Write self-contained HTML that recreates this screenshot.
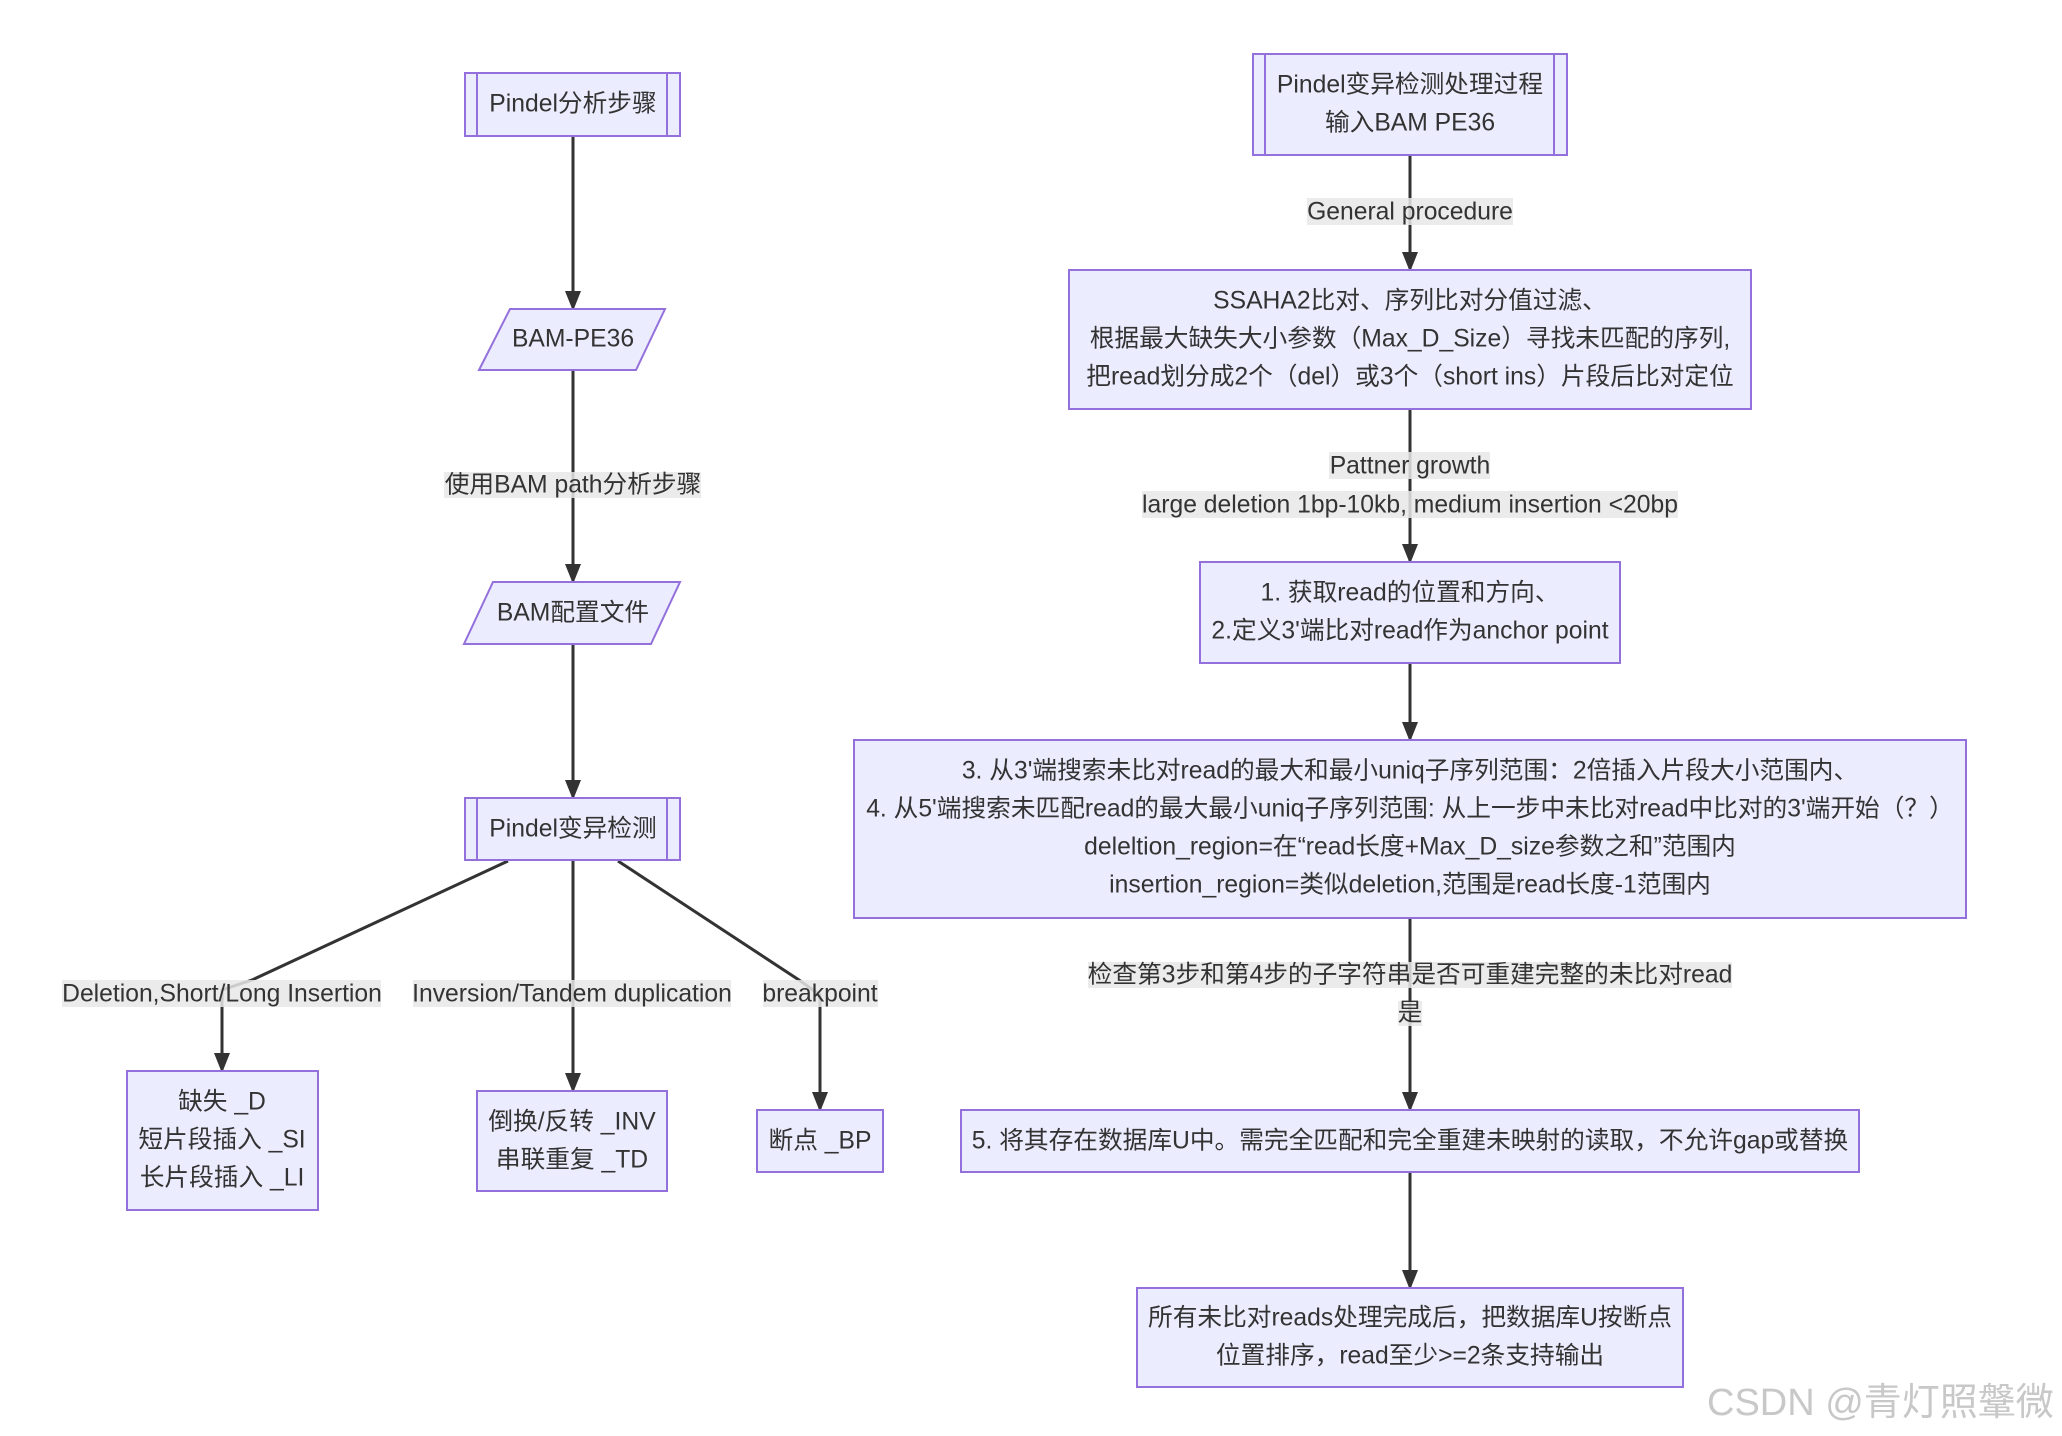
<!DOCTYPE html>
<html><head><meta charset="utf-8"><style>
html,body{margin:0;padding:0;background:#fff;}
svg{display:block;}
text{font-family:"Liberation Sans","Noto Sans CJK SC",sans-serif;font-size:24.7px;fill:#333;text-anchor:middle;dominant-baseline:central;}
.n{fill:#ECECFF;stroke:#9370DB;stroke-width:2;}
.l{stroke:#333;stroke-width:3;fill:none;}
.lb{fill:rgba(232,232,232,0.85);}
.wm{fill:#c8c8c8;font-size:38px;text-anchor:start;}
</style></head><body>
<svg width="2062" height="1436" viewBox="0 0 2062 1436" xmlns="http://www.w3.org/2000/svg">
<defs>
<marker id="b" markerWidth="20" markerHeight="20" refX="18" refY="8" orient="auto" markerUnits="userSpaceOnUse" viewBox="0 0 20 16"><path d="M0,0 L20,8 L0,16 z" fill="#333"/></marker></defs>

<path class="l" d="M573,136 L573,309" marker-end="url(#b)"/>
<path class="l" d="M573,370 L573,582" marker-end="url(#b)"/>
<path class="l" d="M573,644 L573,798" marker-end="url(#b)"/>
<path class="l" d="M508,861 L252,980 L222,990 L222,1071" marker-end="url(#b)"/>
<path class="l" d="M573,861 L573,1091" marker-end="url(#b)"/>
<path class="l" d="M618,861 L799,980 L820,995 L820,1110" marker-end="url(#b)"/>
<path class="l" d="M1410,155 L1410,270" marker-end="url(#b)"/>
<path class="l" d="M1410,409 L1410,562" marker-end="url(#b)"/>
<path class="l" d="M1410,663 L1410,740" marker-end="url(#b)"/>
<path class="l" d="M1410,918 L1410,1110" marker-end="url(#b)"/>
<path class="l" d="M1410,1172 L1410,1288" marker-end="url(#b)"/>

<rect class="n" x="465" y="73" width="215" height="63"/>
<line class="n" x1="477" y1="73" x2="477" y2="136"/><line class="n" x1="667" y1="73" x2="667" y2="136"/>
<text x="573" y="104">Pindel分析步骤</text>
<polygon class="n" points="510,309 665,309 636,370 479,370"/>
<text x="573" y="339">BAM-PE36</text>
<polygon class="n" points="493,582 680,582 651,644 464,644"/>
<text x="573" y="613">BAM配置文件</text>
<rect class="n" x="465" y="798" width="215" height="62"/>
<line class="n" x1="477" y1="798" x2="477" y2="860"/><line class="n" x1="667" y1="798" x2="667" y2="860"/>
<text x="573" y="829">Pindel变异检测</text>

<rect class="lb" x="444" y="472" width="257" height="26"/><text x="573" y="485">使用BAM path分析步骤</text>
<rect class="lb" x="62" y="980" width="319" height="27"/><text x="222" y="994">Deletion,Short/Long Insertion</text>
<rect class="lb" x="413" y="980" width="318" height="27"/><text x="572" y="994">Inversion/Tandem duplication</text>
<rect class="lb" x="763" y="980" width="115" height="27"/><text x="820" y="994">breakpoint</text>

<rect class="n" x="127" y="1071" width="191" height="139"/>
<text x="222" y="1102">缺失 _D</text><text x="222" y="1140">短片段插入 _SI</text><text x="222" y="1178">长片段插入 _LI</text>
<rect class="n" x="477" y="1091" width="190" height="100"/>
<text x="572" y="1122">倒换/反转 _INV</text><text x="572" y="1160">串联重复 _TD</text>
<rect class="n" x="757" y="1110" width="126" height="62"/>
<text x="820" y="1141">断点 _BP</text>

<rect class="n" x="1253" y="54" width="314" height="101"/>
<line class="n" x1="1265" y1="54" x2="1265" y2="155"/><line class="n" x1="1554" y1="54" x2="1554" y2="155"/>
<text x="1410" y="85">Pindel变异检测处理过程</text><text x="1410" y="123">输入BAM PE36</text>
<rect class="lb" x="1307" y="198" width="206" height="27"/><text x="1410" y="212">General procedure</text>

<rect class="n" x="1069" y="270" width="682" height="139"/>
<text x="1410" y="301">SSAHA2比对、序列比对分值过滤、</text>
<text x="1410" y="339">根据最大缺失大小参数（Max_D_Size）寻找未匹配的序列,</text>
<text x="1410" y="377">把read划分成2个（del）或3个（short ins）片段后比对定位</text>

<rect class="lb" x="1329" y="452" width="161" height="27"/><text x="1410" y="466">Pattner growth</text>
<rect class="lb" x="1142" y="491" width="536" height="27"/><text x="1410" y="505">large deletion 1bp-10kb, medium insertion &lt;20bp</text>

<rect class="n" x="1200" y="562" width="420" height="101"/>
<text x="1410" y="593">1. 获取read的位置和方向、</text><text x="1410" y="631">2.定义3'端比对read作为anchor point</text>

<rect class="n" x="854" y="740" width="1112" height="178"/>
<text x="1410" y="771">3. 从3'端搜索未比对read的最大和最小uniq子序列范围：2倍插入片段大小范围内、</text>
<text x="1410" y="809">4. 从5'端搜索未匹配read的最大最小uniq子序列范围: 从上一步中未比对read中比对的3'端开始（？）</text>
<text x="1410" y="847">deleltion_region=在“read长度+Max_D_size参数之和”范围内</text>
<text x="1410" y="885">insertion_region=类似deletion,范围是read长度-1范围内</text>

<rect class="lb" x="1088" y="962" width="644" height="26"/><text x="1410" y="975">检查第3步和第4步的子字符串是否可重建完整的未比对read</text>
<rect class="lb" x="1398" y="1001" width="24" height="25"/><text x="1410" y="1013">是</text>

<rect class="n" x="961" y="1110" width="898" height="62"/>
<text x="1410" y="1141">5. 将其存在数据库U中。需完全匹配和完全重建未映射的读取，不允许gap或替换</text>

<rect class="n" x="1137" y="1288" width="546" height="99"/>
<text x="1410" y="1318">所有未比对reads处理完成后，把数据库U按断点</text><text x="1410" y="1356">位置排序，read至少&gt;=2条支持输出</text>

<text class="wm" x="1707" y="1403">CSDN @青灯照鞶微</text>
</svg>
</body></html>
